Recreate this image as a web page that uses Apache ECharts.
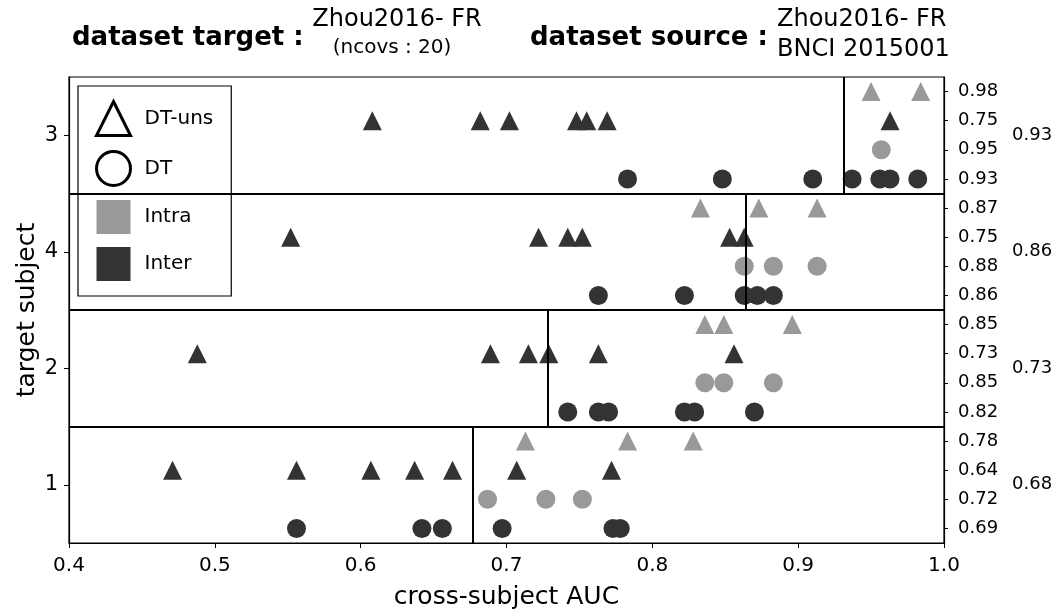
<!DOCTYPE html>
<html>
<head>
<meta charset="utf-8">
<script src="https://cdn.jsdelivr.net/npm/echarts@6/dist/echarts.min.js"></script>
<style>
  html, body { margin: 0; padding: 0; background: #fff; }
  #main { width: 1061px; height: 613px; }
</style>
</head>
<body>
<div id="main"></div>
<script>
// rows from bottom to top
var subjects = ['1', '2', '4', '3'];

// cross-subject AUC per subject (same row order as subjects)
var unsIntra = [
  [0.713, 0.783, 0.828],
  [0.836, 0.849, 0.896],
  [0.833, 0.873, 0.913],
  [0.950, 0.984]
];
var unsInter = [
  [0.471, 0.556, 0.607, 0.637, 0.663, 0.707, 0.772],
  [0.488, 0.689, 0.715, 0.729, 0.763, 0.856],
  [0.552, 0.722, 0.742, 0.752, 0.853, 0.863],
  [0.608, 0.682, 0.702, 0.748, 0.755, 0.769, 0.963]
];
var dtIntra = [
  [0.687, 0.727, 0.752],
  [0.836, 0.849, 0.883],
  [0.863, 0.883, 0.913],
  [0.957]
];
var dtInter = [
  [0.556, 0.642, 0.656, 0.697, 0.773, 0.778],
  [0.742, 0.763, 0.770, 0.822, 0.829, 0.870],
  [0.763, 0.822, 0.863, 0.872, 0.883],
  [0.783, 0.848, 0.910, 0.937, 0.956, 0.963, 0.982]
];

// scores printed on the right: [unsIntra, unsInter, dtIntra, dtInter]
var rowScores = [
  ['0.78', '0.64', '0.72', '0.69'],
  ['0.85', '0.73', '0.85', '0.82'],
  ['0.87', '0.75', '0.88', '0.86'],
  ['0.98', '0.75', '0.95', '0.93']
];
var meanAUC = [0.677, 0.728, 0.864, 0.931];

var DARK = '#333333';
var GRAY = '#999999';
var FONT = 'DejaVu Sans';

// vertical place of each group inside a subject row
var offsets = [0.375, 0.125, -0.125, -0.375];

function points(groups, off) {
  var out = [];
  groups.forEach(function (vals, i) {
    vals.forEach(function (v) { out.push([v, i + 1 + off]); });
  });
  return out;
}

// right side labels, bottom to top
var subLabels = [];
rowScores.forEach(function (r) {
  subLabels.push(r[3], r[2], r[1], r[0]);
});
var meanLabels = meanAUC.map(function (m) { return m.toFixed(2); });

var chart = echarts.init(document.getElementById('main'));

function txt(x, y, s, font, align) {
  return {
    type: 'text', x: x, y: y,
    style: { text: s, font: font, textAlign: align, textVerticalAlign: 'middle', fill: '#000' }
  };
}

var option = {
  animation: false,
  textStyle: { fontFamily: FONT, color: '#000' },
  grid: {
    left: 69, right: 117, top: 77, bottom: 70,
    outerBoundsMode: 'none',
    show: true, borderColor: '#000', borderWidth: 1.2, backgroundColor: 'transparent'
  },
  graphic: [
    txt(72, 38, 'dataset target :', 'bold 26px ' + FONT, 'left'),
    txt(397, 20, 'Zhou2016- FR', '24px ' + FONT, 'center'),
    txt(392, 48, '(ncovs : 20)', '20px ' + FONT, 'center'),
    txt(530, 38, 'dataset source :', 'bold 26px ' + FONT, 'left'),
    txt(777, 20, 'Zhou2016- FR', '24px ' + FONT, 'left'),
    txt(777, 50, 'BNCI 2015001', '24px ' + FONT, 'left')
  ],
  legend: {
    left: 78, top: 86,
    orient: 'vertical',
    backgroundColor: '#fff',
    borderColor: '#000', borderWidth: 1.2, borderRadius: 0,
    padding: [14, 18, 15, 17],
    itemWidth: 34, itemHeight: 34, itemGap: 13,
    selectedMode: false,
    textStyle: { fontSize: 20, fontFamily: FONT, color: '#000', padding: [0, 0, 0, 9] },
    data: [
      { name: 'DT-uns', icon: 'triangle', itemStyle: { color: '#fff', borderColor: '#000', borderWidth: 3, opacity: 1 } },
      { name: 'DT', icon: 'circle', itemStyle: { color: '#fff', borderColor: '#000', borderWidth: 3, opacity: 1 } },
      { name: 'Intra', icon: 'rect', itemStyle: { color: GRAY, borderWidth: 0, opacity: 1 } },
      { name: 'Inter', icon: 'rect', itemStyle: { color: DARK, borderWidth: 0, opacity: 1 } }
    ]
  },
  xAxis: {
    type: 'value', min: 0.4, max: 1.0, interval: 0.1,
    name: 'cross-subject AUC', nameLocation: 'middle', nameGap: 42, nameMoveOverlap: false,
    nameTextStyle: { fontSize: 25, fontFamily: FONT, color: '#000' },
    axisLine: { lineStyle: { color: '#000', width: 1.2 } },
    axisTick: { show: true, length: 5, lineStyle: { color: '#000' } },
    axisLabel: { fontSize: 20, color: '#000', margin: 13, formatter: function (v) { return v.toFixed(1); } },
    splitLine: { show: false }
  },
  yAxis: [
    { type: 'value', min: 0.5, max: 4.5, show: false },
    {
      type: 'category', data: subjects, position: 'left', boundaryGap: true,
      name: 'target subject', nameLocation: 'middle', nameGap: 29, nameRotate: 90, nameMoveOverlap: false,
      nameTextStyle: { fontSize: 25, fontFamily: FONT, color: '#000' },
      axisLine: { lineStyle: { color: '#000', width: 1.2 } },
      axisTick: { show: true, alignWithLabel: true, length: 5, lineStyle: { color: '#000' } },
      axisLabel: { fontSize: 21, color: '#000', margin: 11 },
      splitLine: { show: false }
    },
    {
      type: 'category', data: subLabels, position: 'right', boundaryGap: true,
      axisLine: { lineStyle: { color: '#000', width: 1.2 } },
      axisTick: { show: true, alignWithLabel: true, length: 4, lineStyle: { color: '#000' } },
      axisLabel: { fontSize: 18, color: '#000', margin: 14 },
      splitLine: { show: false }
    },
    {
      type: 'category', data: meanLabels, position: 'right', boundaryGap: true, offset: 60,
      axisLine: { show: false }, axisTick: { show: false },
      axisLabel: { fontSize: 18, color: '#000', margin: 8 },
      splitLine: { show: false }
    }
  ],
  series: [
    { name: 'DT-uns', type: 'scatter', data: [], itemStyle: { color: '#fff', borderColor: '#000', opacity: 1 } },
    { name: 'DT', type: 'scatter', data: [], itemStyle: { color: '#fff', borderColor: '#000', opacity: 1 } },
    { name: 'Intra', type: 'scatter', data: [], itemStyle: { color: GRAY, opacity: 1 } },
    { name: 'Inter', type: 'scatter', data: [], itemStyle: { color: DARK, opacity: 1 } },
    {
      name: 'uns intra', type: 'scatter', yAxisIndex: 0, symbol: 'triangle', symbolSize: 19,
      itemStyle: { color: GRAY, opacity: 1 }, data: points(unsIntra, offsets[0])
    },
    {
      name: 'uns inter', type: 'scatter', yAxisIndex: 0, symbol: 'triangle', symbolSize: 19,
      itemStyle: { color: DARK, opacity: 1 }, data: points(unsInter, offsets[1])
    },
    {
      name: 'dt intra', type: 'scatter', yAxisIndex: 0, symbol: 'circle', symbolSize: 19,
      itemStyle: { color: GRAY, opacity: 1 }, data: points(dtIntra, offsets[2])
    },
    {
      name: 'dt inter', type: 'scatter', yAxisIndex: 0, symbol: 'circle', symbolSize: 19,
      itemStyle: { color: DARK, opacity: 1 }, data: points(dtInter, offsets[3]),
      markLine: {
        silent: true, symbol: 'none', label: { show: false },
        lineStyle: { color: '#000', width: 2, type: 'solid' },
        data: [1.5, 2.5, 3.5].map(function (y) { return { yAxis: y }; }).concat(
          meanAUC.map(function (m, i) {
            return [{ coord: [m, i + 0.5] }, { coord: [m, i + 1.5] }];
          })
        )
      }
    }
  ]
};

chart.setOption(option);
</script>
</body>
</html>
